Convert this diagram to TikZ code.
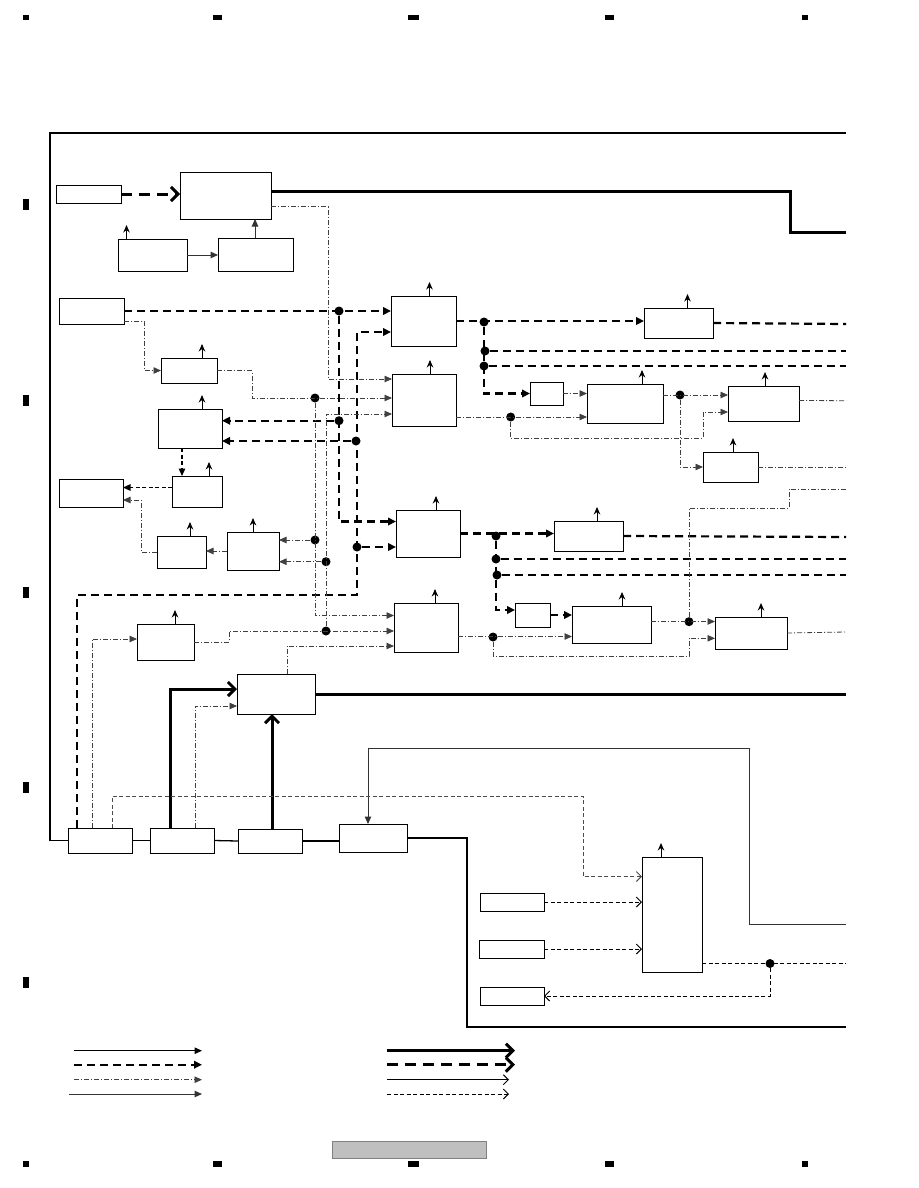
\documentclass[tikz,border=0pt]{standalone}
\usetikzlibrary{arrows.meta, calc}

\begin{document}
\begin{tikzpicture}[x=1pt, y=-1pt,
  blk/.style={draw, line width=1pt, inner sep=0pt, outer sep=0pt},
  dot/.style={circle, fill, inner sep=0pt, minimum size=9pt},
  frameline/.style={line width=1.3pt},
  thickline/.style={line width=3pt},
  thickarr/.style={line width=3pt, -{Straight Barb[length=7pt,width=14pt]}},
  bigdash/.style={line width=3pt, dash pattern=on 11pt off 7pt, -{Straight Barb[length=7pt,width=14pt]}},
  dline/.style={line width=2.2pt, dash pattern=on 8pt off 5pt},
  dsig/.style={dline, -{Triangle[length=8pt,width=7.5pt]}},
  ddline/.style={line width=0.8pt, black!75, dash pattern=on 5pt off 2pt on 1pt off 2pt},
  dd/.style={ddline, -{Triangle[length=7.5pt,width=6.5pt]}},
  tdash/.style={line width=1.2pt, dash pattern=on 4pt off 2.5pt, -{Triangle[length=7.5pt,width=6.5pt]}},
  thinar/.style={line width=1pt, black!80, -{Triangle[length=7.5pt,width=6.5pt]}},
  odline/.style={line width=0.9pt, dash pattern=on 4pt off 2.5pt},
  odash/.style={odline, -{Straight Barb[length=5pt,width=10pt]}},
  outar/.style={line width=1pt, -{Stealth[length=7.5pt,width=6.5pt]}},
]
  \useasboundingbox (0,0) rectangle (918,1188);

  % registration marks
  \foreach \x/\w in {26/6, 217/9, 413/11, 609/9, 805/6} {
    \fill (\x-\w/2,15) rectangle (\x+\w/2,20.5);
    \fill (\x-\w/2,1161) rectangle (\x+\w/2,1166.5);
  }
  \foreach \y in {204, 400, 592, 787, 982}
    \fill (23,\y-5.5) rectangle (29,\y+5.5);
  \node[draw=gray, fill=gray!50, minimum width=154, minimum height=17, inner sep=0pt] (tag) at (409,1149.5) {};

  % left column blocks
  \node[blk, minimum width=65, minimum height=18] (A0) at (88.5,194) {};
  \node[blk, minimum width=91, minimum height=47] (T1) at (225.5,195.5) {};
  \node[blk, minimum width=69, minimum height=32] (L1) at (152.5,255) {};
  \node[blk, minimum width=75, minimum height=33] (L2) at (255.5,254.5) {};
  \node[blk, minimum width=65, minimum height=26] (A1) at (91.5,311) {};
  \node[blk, minimum width=56, minimum height=25] (C1) at (189,370.5) {};
  \node[blk, minimum width=64, minimum height=39] (C2) at (190,428.5) {};
  \node[blk, minimum width=50, minimum height=31] (C3) at (197,491.5) {};
  \node[blk, minimum width=64, minimum height=28] (A2) at (91,493) {};
  \node[blk, minimum width=49, minimum height=32] (C4) at (181.5,552) {};
  \node[blk, minimum width=52, minimum height=38] (C5) at (253,551) {};
  \node[blk, minimum width=57, minimum height=36] (D1) at (165.5,642) {};

  % middle column blocks
  \node[blk, minimum width=65, minimum height=50] (M1) at (423.5,321) {};
  \node[blk, minimum width=64, minimum height=52] (M2) at (424,400) {};
  \node[blk, minimum width=64, minimum height=47] (M3) at (428,533.5) {};
  \node[blk, minimum width=64, minimum height=49] (M4) at (426,627.5) {};
  \node[blk, minimum width=78, minimum height=40] (P) at (276,694) {};

  % right column blocks
  \node[blk, minimum width=69, minimum height=30] (N1) at (678.5,323) {};
  \node[blk, minimum width=33, minimum height=23] (N2) at (546.5,393.5) {};
  \node[blk, minimum width=76, minimum height=39] (N3) at (625,403.5) {};
  \node[blk, minimum width=71, minimum height=35] (N4) at (763.5,403.5) {};
  \node[blk, minimum width=55, minimum height=30] (N5) at (730.5,467) {};
  \node[blk, minimum width=69, minimum height=30] (Q1) at (588.5,536) {};
  \node[blk, minimum width=35, minimum height=24] (Q2) at (532.5,615) {};
  \node[blk, minimum width=79, minimum height=37] (Q3) at (611.5,624.5) {};
  \node[blk, minimum width=72, minimum height=32] (Q4) at (751,633) {};

  % bottom blocks
  \node[blk, minimum width=64, minimum height=25] (B1) at (100,840.5) {};
  \node[blk, minimum width=64, minimum height=25] (B2) at (182,840.5) {};
  \node[blk, minimum width=64, minimum height=24] (B3) at (270,841) {};
  \node[blk, minimum width=68, minimum height=28] (B4) at (373,838) {};
  \node[blk, minimum width=60, minimum height=115] (R) at (672,914.5) {};
  \node[blk, minimum width=64, minimum height=18] (S1) at (512,902) {};
  \node[blk, minimum width=65, minimum height=18] (S2) at (511.5,949) {};
  \node[blk, minimum width=64, minimum height=18] (S3) at (512,996) {};

  % junction dots
  \node[dot] (j1) at (339,311) {};
  \node[dot] (j2) at (339,420.7) {};
  \node[dot] (j3) at (356,441) {};
  \node[dot] (j4) at (357,547) {};
  \node[dot] (j5) at (484,322) {};
  \node[dot] (j6) at (485,351) {};
  \node[dot] (j7) at (484,366) {};
  \node[dot] (j8) at (315,398) {};
  \node[dot] (j9) at (315,540) {};
  \node[dot] (j10) at (326,631) {};
  \node[dot] (j11) at (326,561.7) {};
  \node[dot] (m1) at (510.7,417) {};
  \node[dot] (m2) at (680,395) {};
  \node[dot] (m3) at (689,621.7) {};
  \node[dot] (m4) at (493,637) {};
  \node[dot] (q1) at (496,536) {};
  \node[dot] (q2) at (496,559) {};
  \node[dot] (q3) at (497,575) {};
  \node[dot] (r1) at (770,963.5) {};

  % outputs
  \foreach \n/\dx in {L1/-26, C1/13, C2/12, C3/12, C4/8.5, C5/0, D1/9.5, M1/6, M2/6, M3/8, M4/9,
                      N1/9, N3/17, N4/1.5, N5/2.5, Q1/8.5, Q3/10.5, Q4/10, R/-11}
    \draw[outar] ([xshift=\dx]\n.north) -- ++(0,-14);

  % frame
  \coordinate (fTop) at (846,133);
  \coordinate (fMid) at (846,924);
  \coordinate (fBot) at (846,1027);
  \draw[frameline] (B1.west) -| (50,133) -- (fTop);
  \draw[frameline] (B1.east) -- (B2.west);
  \draw[frameline] (B2.east) -- (B3.west);
  \draw[frameline] (B3.east) -- (B3.east -| B4.west);
  \draw[frameline] (B4.east) -| (467,1027) -- (fBot);
  \draw[thinar] (fMid) -| (749,748) -| ([xshift=-5]B4.north);

  % thick paths
  \coordinate (eT) at (846,232);
  \coordinate (eP) at (846,694);
  \draw[bigdash] (A0.east) -- (A0.east -| T1.west);
  \draw[thickline] ([yshift=4.5]T1.east) -| (790,232) -- (eT);
  \draw[thickline] (P.east) -- (eP);
  \draw[thickarr] ([xshift=-12]B2.north) |- ([yshift=5]P.west);
  \draw[thickarr] ([xshift=2]B3.north) -- ([xshift=2]B3.north |- P.south);
  \draw[thinar] (L1.east) -- (L1.east -| L2.west);
  \draw[thinar] ([xshift=-0.5]L2.north) -- ([xshift=-0.5]L2.north |- T1.south);

  % dashed signals
  \coordinate (e1) at (846,324);
  \coordinate (e2) at (846,351);
  \coordinate (e3) at (846,366);
  \coordinate (e4) at (846,537);
  \coordinate (e5) at (846,559);
  \coordinate (e6) at (846,575);
  \draw[dsig] (A1.east) -- (A1.east -| M1.west);
  \draw[dsig] (j1) |- ([yshift=12]M3.west);
  \draw[dsig] (j2) -- (j2 -| C2.east);
  \draw[dsig] ([xshift=-23]B1.north) |- (357,595) |- ([yshift=-11]M1.west);
  \draw[dsig] (j3) -- (j3 -| C2.east);
  \draw[dsig] (j4) -- (j4 -| M3.west);
  \draw[dsig] (M1.east) -- (M1.east -| N1.west);
  \draw[dsig] (j5) |- (N2.west);
  \draw[dline] (j6) -- (e2);
  \draw[dline] (j7) -- (e3);
  \draw[dline] (N1.east) -- (e1);
  \draw[dsig] (M3.east) -- (M3.east -| Q1.west);
  \draw[dsig] (q1) |- ([yshift=5]Q2.west);
  \draw[dline] (q2) -- (e5);
  \draw[dline] (q3) -- (e6);
  \draw[dline] (Q1.east) -- (e4);
  \draw[dsig] (Q2.east) -- (Q2.east -| Q3.west);
  \draw[tdash] ([xshift=-8]C2.south) -- ([xshift=-8]C2.south |- C3.north);
  \draw[tdash] ([yshift=4]C3.west) -- ([yshift=4]C3.west -| A2.east);

  % dash-dot signals
  \coordinate (e7) at (846,400.7);
  \coordinate (e8) at (846,467);
  \coordinate (e9) at (846,489);
  \coordinate (e10) at (846,632);
  \draw[dd] ([yshift=-11]T1.east) -| (328,379) -- ([yshift=21]M2.west);
  \draw[dd] ([yshift=-10]A1.east) -| ([xshift=-17]C1.west) -- (C1.west);
  \draw[dd] (C1.east) -| (252,398) -- ([yshift=2]M2.west);
  \draw[dd] (j8) |- ([yshift=12]M4.west);
  \draw[dd] (j9) -- (j9 -| C5.east);
  \draw[dd] (D1.east) -| (229,631) -- ([yshift=-3.5]M4.west);
  \draw[dd] (j10) |- ([yshift=-14]M2.west);
  \draw[dd] (j11) -- (j11 -| C5.east);
  \draw[dd] (C5.west) -- (C5.west -| C4.east);
  \draw[dd] (C4.west) -| (141,500) -- ([yshift=-7]A2.east);
  \draw[dd] ([xshift=-8]B1.north) |- ([yshift=3]D1.west);
  \draw[dd] ([xshift=11]P.north) |- ([yshift=-18.5]M4.west);
  \draw[dd] ([xshift=13]B2.north) |- ([yshift=-12]P.west);
  \draw[dd] ([yshift=-17]M2.east) -- ([yshift=-17]M2.east -| N3.west);
  \draw[dd] (m1) |- (703,438) |- ([yshift=-8.5]N4.west);
  \draw[dd] (N2.east) -- (N2.east -| N3.west);
  \draw[dd] ([yshift=8.5]N3.east) -- ([yshift=8.5]N3.east -| N4.west);
  \draw[dd] (m2) |- (N5.west);
  \draw[ddline] ([yshift=3]N4.east) -- (e7);
  \draw[ddline] (N5.east) -- (e8);
  \draw[dd] ([yshift=-9]M4.east) -- ([yshift=-9]M4.east -| Q3.west);
  \draw[dd] (m4) |- (689,656) |- ([yshift=-5.3]Q4.west);
  \draw[dd] ([yshift=3]Q3.east) -- ([yshift=3]Q3.east -| Q4.west);
  \draw[ddline] (Q4.east) -- (e10);
  \draw[ddline] (m3) |- (789,508) |- (e9);

  % thin dashed paths
  \coordinate (e11) at (846,963.5);
  \draw[odash, black!70] ([xshift=12]B1.north) |- (583,796) |- ([yshift=38]R.west);
  \draw[odash] (S1.east) -- (S1.east -| R.west);
  \draw[odash] (S2.east) -- (S2.east -| R.west);
  \draw[odline] ([yshift=-49]R.east) -- (e11);
  \draw[odash] (r1) |- (S3.east);

  % legend
  \draw[line width=1pt, -{Triangle[length=7.5pt,width=6.5pt]}] (74,1050.7) -- (202,1050.7);
  \draw[dsig] (74,1064.7) -- (202,1064.7);
  \draw[dd] (74,1079.7) -- (202,1079.7);
  \draw[thinar] (69,1094) -- (202,1094);
  \draw[thickarr] (387,1050.7) -- (515,1050.7);
  \draw[bigdash] (387,1064.7) -- (515,1064.7);
  \draw[line width=1pt, -{Straight Barb[length=5pt,width=10pt]}] (387,1079.7) -- (509,1079.7);
  \draw[odash] (387,1094) -- (509,1094);
\end{tikzpicture}
\end{document}
